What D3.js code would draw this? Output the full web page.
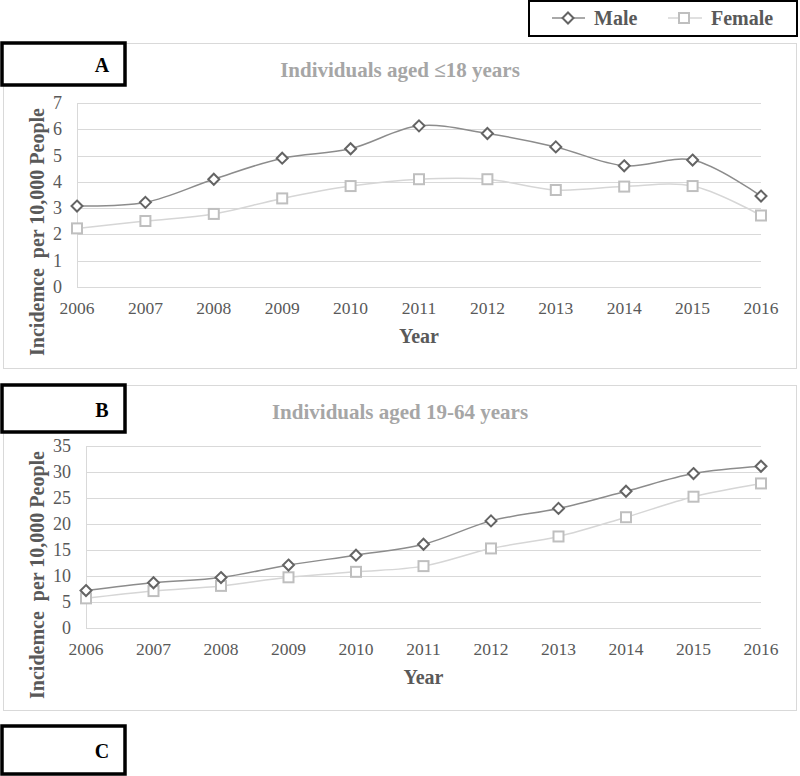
<!DOCTYPE html>
<html><head><meta charset="utf-8">
<script src="https://cdn.jsdelivr.net/npm/d3@7"></script>
<style>body{margin:0;background:#fff}svg{display:block}</style>
</head><body>
<svg id="c" width="800" height="776"></svg>
<script>
const years = [2006,2007,2008,2009,2010,2011,2012,2013,2014,2015,2016];
const maleA = [3.08,3.22,4.1,4.9,5.26,6.13,5.84,5.33,4.61,4.83,3.46];
const femaleA = [2.23,2.51,2.78,3.37,3.84,4.1,4.1,3.69,3.82,3.84,2.72];
const maleB = [7.2,8.7,9.7,12.1,14.0,16.1,20.6,23.0,26.3,29.7,31.1];
const femaleB = [5.7,7.1,8.1,9.75,10.8,11.9,15.3,17.6,21.3,25.25,27.8];
const ticksA = [0,1,2,3,4,5,6,7];
const ticksB = [0,5,10,15,20,25,30,35];
const seriesNames = ["Male","Female"];
const panelLabels = ["A","B","C"];
const titles = ["Individuals aged \u226418 years","Individuals aged 19-64 years"];
const yTitle = "Incidemce\u00a0 per 10,000 People";
const xTitle = "Year";

const svg = d3.select("#c");
const FONT = "'Liberation Serif'";
const maleLine = "#8c8c8c", maleMark = "#646464";
const femLine = "#d6d6d6", femMark = "#bfbfbf";
const txt = "#595959";

function T(sel){ return sel.style("font-family", FONT); }

function diamond(g, x, y){
  const r = 5.5;
  g.append("path").attr("d", `M${x},${y-r}L${x+r},${y}L${x},${y+r}L${x-r},${y}Z`)
    .attr("fill","#fff").attr("stroke",maleMark).attr("stroke-width",2);
}
function square(g, x, y){
  const s = 10;
  g.append("rect").attr("x",x-s/2).attr("y",y-s/2).attr("width",s).attr("height",s)
    .attr("fill","#fff").attr("stroke",femMark).attr("stroke-width",2);
}

// Legend
const lg = svg.append("g");
lg.append("rect").attr("x",529).attr("y",1).attr("width",268).attr("height",35)
  .attr("fill","#fff").attr("stroke","#000").attr("stroke-width",2);
lg.append("line").attr("x1",552).attr("x2",585).attr("y1",18).attr("y2",18).attr("stroke",maleLine).attr("stroke-width",1.5);
diamond(lg,568,18);
T(lg.append("text")).attr("x",594).attr("y",25).text(seriesNames[0])
  .attr("font-weight","bold").attr("font-size",20).attr("fill",txt);
lg.append("line").attr("x1",668).attr("x2",702).attr("y1",18).attr("y2",18).attr("stroke",femLine).attr("stroke-width",1.5);
square(lg,684,18);
T(lg.append("text")).attr("x",711).attr("y",25).text(seriesNames[1])
  .attr("font-weight","bold").attr("font-size",20).attr("fill",txt);

function panel(cfg){
  const g = svg.append("g");
  g.append("rect").attr("x",3.5).attr("y",cfg.boxTop+0.5).attr("width",793).attr("height",cfg.boxH)
    .attr("fill","#fff").attr("stroke","#d9d9d9").attr("stroke-width",1);
  const x = d3.scaleLinear().domain([2006,2016]).range([cfg.x0,cfg.x1]);
  const y = d3.scaleLinear().domain([0,cfg.ymax]).range([cfg.y0,cfg.y1]);
  g.selectAll(".grid").data(cfg.ticks).join("line")
    .attr("x1",cfg.x0).attr("x2",cfg.x1).attr("y1",d=>Math.round(y(d))+0.5).attr("y2",d=>Math.round(y(d))+0.5)
    .attr("stroke","#d9d9d9").attr("stroke-width",1);
  g.append("line").attr("x1",cfg.x0+0.5).attr("x2",cfg.x0+0.5).attr("y1",cfg.y0).attr("y2",cfg.y1)
    .attr("stroke","#d9d9d9").attr("stroke-width",1);
  T(g.selectAll(".yt").data(cfg.ticks).join("text"))
    .attr("x",cfg.x0-15).attr("y",d=>y(d)).attr("dy","0.33em").attr("text-anchor","end")
    .attr("font-size",18).attr("fill",txt).text(d=>d);
  T(g.selectAll(".xt").data(years).join("text"))
    .attr("x",d=>x(d)).attr("y",cfg.y0+27).attr("text-anchor","middle")
    .attr("font-size",17.5).attr("fill",txt).text(d=>d);
  T(g.append("text")).attr("x",(cfg.x0+cfg.x1)/2).attr("y",cfg.y0+56).attr("text-anchor","middle")
    .attr("font-weight","bold").attr("font-size",20).attr("fill",txt).text(xTitle);
  T(g.append("text")).attr("transform",`translate(44,${cfg.ylabC}) rotate(-90)`).attr("text-anchor","middle")
    .attr("font-weight","bold").attr("font-size",20).attr("fill",txt).text(yTitle);
  T(g.append("text")).attr("x",400).attr("y",cfg.titleY).attr("text-anchor","middle")
    .attr("font-weight","bold").attr("font-size",21).attr("fill","#a6a6a6").text(cfg.title);
  const line = d3.line().x((d,i)=>x(years[i])).y(d=>y(d)).curve(d3.curveCatmullRom.alpha(0.5));
  g.append("path").attr("d",line(cfg.female)).attr("fill","none").attr("stroke",femLine).attr("stroke-width",1.5);
  g.append("path").attr("d",line(cfg.male)).attr("fill","none").attr("stroke",maleLine).attr("stroke-width",1.5);
  cfg.female.forEach((v,i)=>square(g,x(years[i]),y(v)));
  cfg.male.forEach((v,i)=>diamond(g,x(years[i]),y(v)));
}

function labelBox(top, h, label, base){
  const g = svg.append("g");
  g.append("rect").attr("x",2).attr("y",top).attr("width",123).attr("height",h)
    .attr("fill","#fff").attr("stroke","#000").attr("stroke-width",3.5);
  T(g.append("text")).attr("x",102).attr("y",base).attr("text-anchor","middle")
    .attr("font-weight","bold").attr("font-size",20).attr("fill","#000").text(label);
}

panel({boxTop:43, boxH:325, x0:77, x1:761, y0:287, y1:103, ymax:7, ticks:ticksA,
  male:maleA, female:femaleA, title:titles[0], titleY:77, ylabC:232});
panel({boxTop:385, boxH:325, x0:86, x1:761, y0:628, y1:446, ymax:35, ticks:ticksB,
  male:maleB, female:femaleB, title:titles[1], titleY:419, ylabC:575});

labelBox(43, 42, panelLabels[0], 72);
labelBox(385, 47, panelLabels[1], 417);
labelBox(726, 48, panelLabels[2], 758);
</script>
</body></html>
